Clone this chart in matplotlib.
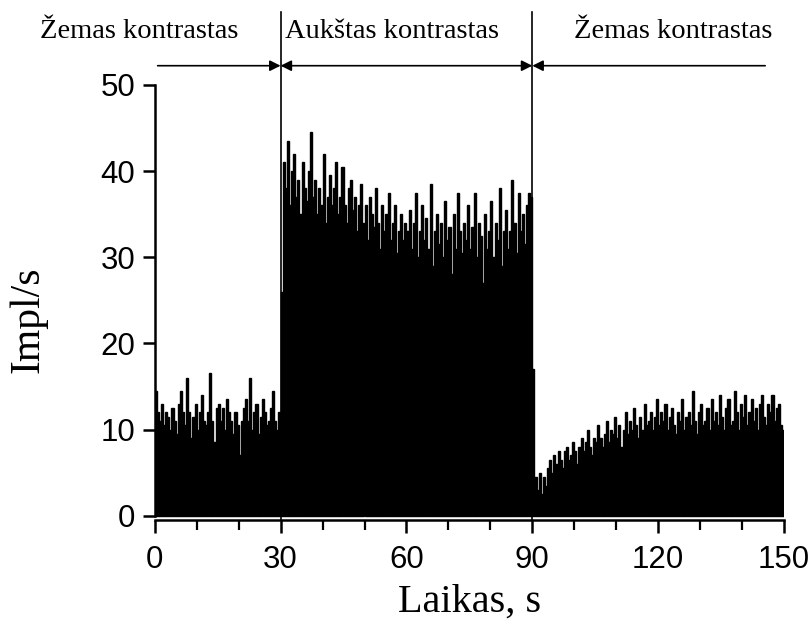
import numpy as np
import matplotlib
matplotlib.use('Agg')
import matplotlib.pyplot as plt

# firing rate (impulses per second) in 0.5 s bins, 0-150 s
bin_width = 0.5
rate_low1 = [14.5, 12, 11, 13, 10.5, 12, 11.5, 10, 12.5, 11, 9.5, 13, 14.5, 12, 10.5,
             16, 12, 9, 11.5, 13, 10, 12, 14, 11, 10.5, 12, 16.5, 11, 8.5, 12.5,
             13, 11, 12.5, 10, 13.5, 12, 11, 9.5, 12, 10.5, 7, 11, 12.5, 13.5, 11,
             16, 10, 12, 13, 9.5, 11.5, 13.5, 12, 10.5, 11, 12.5, 14.5, 11, 10, 12]
rate_high1 = [26, 41, 38, 43.5, 36, 40, 42, 37, 39, 35, 41, 38, 36.5, 40, 44.5,
              37, 39, 35, 38, 36, 42, 34, 37, 39.5, 36, 38, 41, 35, 37, 40.5,
              36, 34, 38, 39, 35.5, 37, 33, 36, 38.5, 34, 36, 32, 37, 35, 33.5,
              38, 34, 31, 36, 33, 35, 37.5, 32, 34, 36, 30.5, 33, 35, 32, 34]
rate_high2 = [33, 35.5, 31, 34, 37.5, 30, 33, 36, 32, 34.5, 31, 38.5, 29, 33, 35,
              31.5, 34, 30, 36.5, 32, 33.5, 28, 35, 31, 37.5, 33, 30.5, 34, 32, 36,
              31, 33.5, 37.5, 30, 34, 32.5, 27, 35, 31, 33, 36.5, 30, 34, 32, 38,
              29, 33, 35.5, 31, 33, 39, 34, 30.5, 37.5, 33, 35, 31.5, 36, 37.5, 37]
rate_low2 = [17, 4.5, 3, 5, 2.5, 4.5, 3.5, 5.5, 6.5, 5, 7, 6, 7.5, 6.5, 5.5,
             7.5, 8, 6.5, 7, 8.5, 7.5, 6, 8, 9, 7.5, 8.5, 10, 8, 7, 9,
             8.5, 10.5, 9, 8, 9.5, 11, 8.5, 10, 9.5, 11.5, 9, 10.5, 8, 10, 12,
             9.5, 11, 10, 12.5, 10.5, 9, 11.5, 10, 13, 10.5, 11, 12, 10, 11.5, 13.5]
rate_low3 = [10.5, 12, 11, 13, 10, 11.5, 12.5, 10.5, 9.5, 12, 11, 13.5, 10, 11.5, 12,
             10.5, 14.5, 11, 9.5, 12, 13, 10.5, 11, 12.5, 10, 13.5, 11, 12, 10.5, 14,
             11.5, 10, 12.5, 13.5, 10.5, 11, 14.5, 12, 10, 13, 11.5, 14, 10.5, 12, 13.5,
             11, 12.5, 10, 13, 14, 11.5, 10.5, 13, 12, 14, 11, 12.5, 13, 10.5, 10]

# stimulus periods
period_bounds = [30, 90]
period_labels = ['Žemas kontrastas', 'Aukštas kontrastas', 'Žemas kontrastas']

rates = np.array(rate_low1 + rate_high1 + rate_high2 + rate_low2 + rate_low3)
t = np.arange(len(rates)) * bin_width

fig = plt.figure(figsize=(8.1, 6.38), dpi=100)
ax = fig.add_axes([0.191, 0.185, 0.777, 0.682])

ax.bar(t, rates, width=bin_width, align='edge', color='black',
       edgecolor='black', linewidth=1.0, zorder=3)

ax.set_xlim(0, 150)
ax.set_ylim(-0.5, 50)
ax.set_xticks([0, 30, 60, 90, 120, 150])
ax.set_xticks(np.arange(0, 151, 10), minor=True)
ax.set_yticks([0, 10, 20, 30, 40, 50])

for s in ['top', 'right']:
    ax.spines[s].set_visible(False)
for s in ['left', 'bottom']:
    ax.spines[s].set_linewidth(1.8)
ax.spines['left'].set_bounds(0, 50)

ax.tick_params(axis='both', which='major', direction='out', length=9, width=1.8, pad=5)
ax.tick_params(axis='x', which='major', pad=9)
ax.tick_params(axis='x', which='minor', direction='out', length=7, width=1.6)
for lab in ax.get_xticklabels() + ax.get_yticklabels():
    lab.set_fontfamily('Liberation Sans')
    lab.set_fontsize(22.5)

serif = ['Liberation Serif', 'DejaVu Serif']
ax.set_xlabel('Laikas, s', family=serif, fontsize=29, labelpad=6)
ax.set_ylabel('Impl/s', family=serif, fontsize=30)
ax.yaxis.set_label_coords(-0.170, 0.46)

# period markers above the histogram
trans = ax.get_xaxis_transform()
for x in period_bounds:
    ax.plot([x, x], [0.0, 1.168], transform=trans, color='black', lw=1.2,
            clip_on=False, zorder=2)

arrow_y = 1.044
arrow_kw = dict(color='black', lw=1.2, mutation_scale=16, shrinkA=0, shrinkB=0)
ax.annotate('', xy=(30, arrow_y), xytext=(0.7, arrow_y), xycoords=trans,
            arrowprops=dict(arrowstyle='-|>', **arrow_kw))
ax.annotate('', xy=(90, arrow_y), xytext=(30, arrow_y), xycoords=trans,
            arrowprops=dict(arrowstyle='<|-|>', **arrow_kw))
ax.annotate('', xy=(90, arrow_y), xytext=(145.5, arrow_y), xycoords=trans,
            arrowprops=dict(arrowstyle='-|>', **arrow_kw))

label_x = [-3.8, 31, 123.5]
label_ha = ['center', 'left', 'center']
for x, ha, text in zip(label_x, label_ha, period_labels):
    ax.text(x, 1.122, text, transform=trans, ha=ha, va='center',
            family=serif, fontsize=20.5)

fig.savefig('out.png', dpi=100)
